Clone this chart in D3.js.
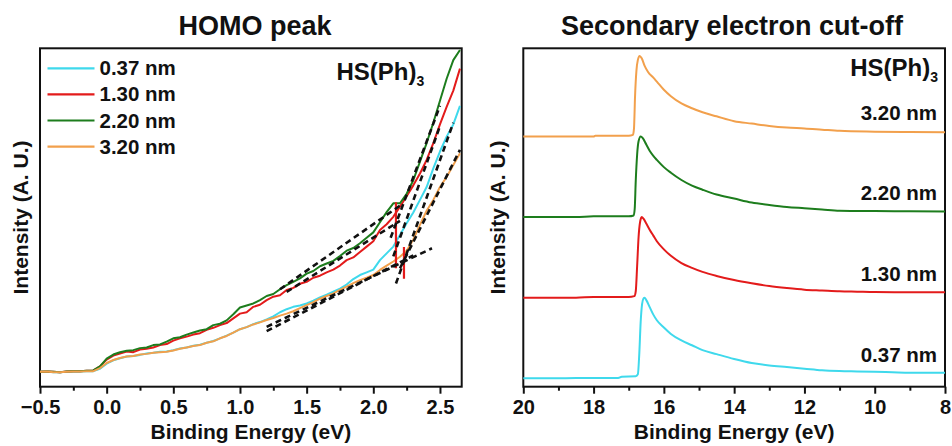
<!DOCTYPE html>
<html>
<head>
<meta charset="utf-8">
<script src="https://cdn.jsdelivr.net/npm/d3@7"></script>
<style>
  body { margin: 0; background: #fff; }
  text { font-family: "Liberation Sans", Arial, sans-serif; font-weight: bold; fill: #111; }
</style>
</head>
<body>
<div id="chart"></div>
<script>
const WIDTH = 952
const HEIGHT = 446

const sampleNames = ["0.37 nm", "1.30 nm", "2.20 nm", "3.20 nm"]
const sampleColors = ["#3fd9ec", "#e31b1b", "#1d7d1d", "#f2a04c"]

// HOMO region, binding energy grid (eV)
const homoEnergy = [-0.5, -0.45, -0.4, -0.35, -0.3, -0.25, -0.2, -0.15, -0.1, -0.05,
    0.0, 0.05, 0.1, 0.15, 0.2, 0.25, 0.3, 0.35, 0.4, 0.45,
    0.5, 0.55, 0.6, 0.65, 0.7, 0.75, 0.8, 0.85, 0.9, 0.95,
    1.0, 1.05, 1.1, 1.15, 1.2, 1.25, 1.3, 1.35, 1.4, 1.45,
    1.5, 1.55, 1.6, 1.65, 1.7, 1.75, 1.8, 1.85, 1.9, 1.95,
    2.0, 2.05, 2.1, 2.15, 2.2, 2.25, 2.3, 2.35, 2.4, 2.45,
    2.5, 2.55, 2.6, 2.65]

const homo037 = [4.4, 4.5, 4.3, 4.3, 4.4, 4.5, 4.5, 4.6, 4.6, 5.3,
    6.8, 7.8, 8.4, 8.9, 9.1, 9.4, 9.8, 10.0, 10.3, 10.4,
    10.8, 11.3, 11.6, 12.1, 12.4, 13.0, 13.5, 14.3, 15.1, 16.0,
    17.0, 17.6, 18.5, 19.1, 19.9, 20.8, 22.0, 22.9, 23.6, 24.0,
    24.6, 25.4, 26.4, 27.2, 28.1, 29.0, 30.2, 31.8, 33.0, 33.8,
    34.6, 37.4, 39.4, 41.4, 44.8, 48.3, 51.5, 55.2, 59.0, 64.5,
    69.5, 73.9, 77.5, 83.0]

const homo130 = [4.4, 4.5, 4.4, 4.3, 4.5, 4.6, 4.6, 4.7, 4.8, 6.0,
    8.0, 9.2, 9.8, 10.4, 10.2, 11.0, 11.2, 11.6, 12.3, 12.6,
    13.6, 14.3, 14.8, 15.4, 15.8, 16.8, 17.4, 18.2, 18.8, 20.2,
    21.6, 22.0, 23.6, 24.2, 25.6, 26.6, 27.0, 28.6, 29.2, 30.4,
    31.0, 32.2, 32.8, 33.8, 34.6, 35.8, 37.4, 38.2, 39.8, 41.4,
    43.0, 46.3, 48.0, 50.2, 53.2, 56.3, 59.5, 63.0, 67.0, 72.0,
    77.5, 82.7, 87.5, 94.0]

const homo220 = [4.4, 4.5, 4.4, 4.3, 4.5, 4.6, 4.6, 4.7, 4.8, 6.0,
    8.3, 9.5, 10.2, 10.6, 10.8, 11.4, 11.6, 12.3, 12.5, 13.3,
    14.3, 14.6, 15.4, 16.0, 16.6, 17.0, 18.2, 18.6, 19.6, 21.4,
    23.4, 24.0, 24.6, 25.6, 26.8, 27.4, 28.8, 30.0, 31.0, 32.0,
    33.4, 34.2, 35.6, 36.4, 37.2, 38.6, 40.2, 41.0, 42.4, 44.0,
    45.6, 48.6, 51.6, 54.2, 54.2, 57.0, 61.0, 66.5, 72.0, 78.0,
    84.5, 91.0, 96.5, 99.5]

const homo320 = [4.4, 4.5, 4.3, 4.3, 4.4, 4.5, 4.5, 4.6, 4.6, 5.5,
    7.0, 7.9, 8.5, 8.9, 9.1, 9.5, 9.7, 10.0, 10.2, 10.3,
    10.7, 11.2, 11.6, 12.0, 12.3, 13.0, 13.4, 14.3, 15.0, 16.0,
    17.0, 17.6, 18.4, 19.0, 19.7, 20.3, 21.0, 21.6, 22.3, 23.2,
    24.1, 25.0, 26.0, 26.8, 27.6, 28.6, 29.6, 30.6, 31.5, 32.2,
    33.0, 34.5, 35.8, 37.0, 38.4, 40.2, 43.5, 47.8, 52.0, 55.2,
    59.0, 62.0, 65.5, 69.0]

// onset tangent lines [e1, i1, e2, i2]
const tangentLines = [
    [1.3, 28.8, 2.2, 53.5],
    [1.35, 28.0, 2.2, 49.0],
    [1.2, 17.7, 2.44, 40.9],
    [1.2, 16.4, 2.3, 38.8],
    [2.13, 44.0, 2.5, 83.0],
    [2.15, 38.5, 2.5, 77.0],
    [2.17, 30.5, 2.6, 78.0],
    [2.2, 35.0, 2.65, 70.0]
]
// red onset markers [energy, iTop, iBottom]
const onsetMarks = [[2.17, 54.5, 35.0], [2.23, 41.3, 31.9]]

// secondary electron cut-off, [energy, normalised intensity]
const secc037 = [[20, 0], [19, 0], [18, 0.005], [17.3, 0.005], [17.2, 0.02], [16.8, 0.025], [16.74, 0.05],
    [16.7, 0.3], [16.66, 0.7], [16.62, 0.92], [16.58, 0.99], [16.55, 1.0], [16.5, 0.97], [16.4, 0.88],
    [16.3, 0.79], [16.2, 0.72], [16.0, 0.63], [15.8, 0.55], [15.5, 0.47], [15.2, 0.41], [14.9, 0.35],
    [14.5, 0.30], [14.0, 0.24], [13.5, 0.19], [13.0, 0.16], [12.5, 0.14], [12.0, 0.12], [11.5, 0.10],
    [11.0, 0.09], [10.5, 0.085], [10.0, 0.08], [9.5, 0.075], [9.0, 0.07], [8.5, 0.07], [8.0, 0.07]]
const secc130 = [[20, 0], [18.5, 0], [18, 0.01], [17, 0.01], [16.84, 0.02], [16.8, 0.08], [16.76, 0.4],
    [16.72, 0.75], [16.68, 0.93], [16.63, 1.0], [16.58, 0.98], [16.5, 0.92], [16.4, 0.84], [16.3, 0.77],
    [16.2, 0.70], [16.0, 0.6], [15.8, 0.52], [15.5, 0.43], [15.2, 0.37], [14.9, 0.32], [14.5, 0.27],
    [14.0, 0.22], [13.5, 0.18], [13.0, 0.145], [12.5, 0.12], [12.0, 0.10], [11.5, 0.09], [11.0, 0.08],
    [10.5, 0.075], [10.0, 0.07], [9.0, 0.068], [8.0, 0.067]]
const secc220 = [[20, 0], [18.5, 0], [18, 0.01], [17, 0.01], [16.86, 0.02], [16.83, 0.1], [16.8, 0.45],
    [16.76, 0.78], [16.72, 0.94], [16.66, 1.0], [16.6, 0.98], [16.5, 0.9], [16.4, 0.82], [16.3, 0.76],
    [16.2, 0.71], [16.0, 0.62], [15.8, 0.55], [15.5, 0.46], [15.2, 0.39], [14.9, 0.34], [14.5, 0.28],
    [14.0, 0.23], [13.5, 0.18], [13.0, 0.15], [12.5, 0.125], [12.0, 0.11], [11.5, 0.095], [11.0, 0.08],
    [10.0, 0.075], [9.0, 0.072], [8.0, 0.07]]
const secc320 = [[20, 0], [18, 0], [17.95, 0.01], [17, 0.01], [16.88, 0.02], [16.85, 0.1], [16.82, 0.5],
    [16.78, 0.82], [16.74, 0.95], [16.69, 1.0], [16.63, 0.97], [16.55, 0.88], [16.45, 0.8], [16.3, 0.73],
    [16.2, 0.68], [16.0, 0.58], [15.8, 0.5], [15.5, 0.41], [15.2, 0.35], [14.9, 0.3], [14.5, 0.25],
    [14.0, 0.19], [13.5, 0.16], [13.0, 0.13], [12.5, 0.11], [12.0, 0.10], [11.5, 0.085], [11.0, 0.07],
    [10.0, 0.06], [9.0, 0.055], [8.0, 0.054]]
const seccOffsets = [0, 1, 2, 3]

const homoTicks = [-0.5, 0.0, 0.5, 1.0, 1.5, 2.0, 2.5]
const seccTicks = [20, 18, 16, 14, 12, 10, 8]


const svg = d3.select("#chart").append("svg")
    .attr("width", WIDTH)
    .attr("height", HEIGHT)

// ---------- left panel ----------
const xL = d3.scaleLinear().domain([-0.5, 2.663]).range([40, 461.7])
const yL = d3.scaleLinear().domain([0, 100]).range([386.7, 48.3])

// ---------- right panel ----------
const xR = d3.scaleLinear().domain([20, 8]).range([523.3, 945])
const yR = d3.scaleLinear().domain([-0.104, 4.094]).range([386.7, 48.3])


function drawFrame(x, y, ticks, minorStep, fmt, title, titleX, labelX) {
    const [x0, x1] = x.range()
    const [yb, yt] = y.range()
    const dom = x.domain()
    const lo = Math.min(...dom), hi = Math.max(...dom)
    const minor = d3.range(Math.ceil(lo / minorStep) * minorStep, hi + 1e-9, minorStep)
        .filter(v => !ticks.some(t => Math.abs(t - v) < 1e-6))

    svg.append("g")
        .attr("transform", `translate(0,${yb})`)
        .call(d3.axisBottom(x).tickValues(minor).tickSize(4).tickFormat(""))
        .call(g => g.select(".domain").remove())
        .selectAll("line").attr("stroke", "#111").attr("stroke-width", 2)

    const ax = svg.append("g")
        .attr("transform", `translate(0,${yb})`)
        .call(d3.axisBottom(x).tickValues(ticks).tickSize(7).tickPadding(6).tickFormat(fmt))
    ax.select(".domain").remove()
    ax.selectAll("line").attr("stroke", "#111").attr("stroke-width", 2)
    ax.selectAll("text").attr("font-size", 20).attr("font-family", null).attr("fill", "#111")

    svg.append("rect")
        .attr("x", x0).attr("y", yt)
        .attr("width", x1 - x0).attr("height", yb - yt)
        .attr("fill", "none").attr("stroke", "#111").attr("stroke-width", 2)

    svg.append("text")
        .attr("x", (x0 + x1) / 2).attr("y", 439)
        .attr("text-anchor", "middle").attr("font-size", 21)
        .text("Binding Energy (eV)")

    svg.append("text")
        .attr("transform", `translate(${labelX},${(yb + yt) / 2}) rotate(-90)`)
        .attr("text-anchor", "middle").attr("font-size", 21)
        .text("Intensity (A. U.)")

    svg.append("text")
        .attr("x", titleX).attr("y", 35)
        .attr("text-anchor", "middle").attr("font-size", 27)
        .text(title)
}

function moleculeLabel(x, y, anchor) {
    const t = svg.append("text")
        .attr("x", x).attr("y", y)
        .attr("text-anchor", anchor).attr("font-size", 24)
    t.append("tspan").text("HS(Ph)")
    t.append("tspan").attr("font-size", 14).attr("dy", 6).text("3")
}

drawFrame(xL, yL, homoTicks, 0.25, d3.format(".1f"), "HOMO peak", 255, 28)
drawFrame(xR, yR, seccTicks, 1, d3.format("d"), "Secondary electron cut-off", 732, 505)

// HOMO curves
const homoSeries = [homo037, homo130, homo220, homo320]
const lineL = d3.line()
    .x((d, i) => xL(homoEnergy[i]))
    .y(d => yL(d))

svg.append("clipPath").attr("id", "clipL")
    .append("rect").attr("x", 40).attr("y", 48.3).attr("width", 421.7).attr("height", 338.4)

const plotL = svg.append("g").attr("clip-path", "url(#clipL)")

plotL.selectAll(".homo")
    .data(homoSeries)
    .join("path")
    .attr("class", "homo")
    .attr("d", lineL)
    .attr("fill", "none")
    .attr("stroke", (d, i) => sampleColors[i])
    .attr("stroke-width", 2)
    .attr("stroke-linejoin", "round")

plotL.selectAll(".onset")
    .data(onsetMarks)
    .join("line")
    .attr("class", "onset")
    .attr("x1", d => xL(d[0])).attr("x2", d => xL(d[0]))
    .attr("y1", d => yL(d[1])).attr("y2", d => yL(d[2]))
    .attr("stroke", sampleColors[1])
    .attr("stroke-width", 2.2)

plotL.selectAll(".tangent")
    .data(tangentLines)
    .join("line")
    .attr("class", "tangent")
    .attr("x1", d => xL(d[0])).attr("y1", d => yL(d[1]))
    .attr("x2", d => xL(d[2])).attr("y2", d => yL(d[3]))
    .attr("stroke", "#111")
    .attr("stroke-width", 2.6)
    .attr("stroke-dasharray", "6,4")

// legend
const legend = svg.append("g")
    .selectAll("g")
    .data(sampleNames)
    .join("g")
    .attr("transform", (d, i) => `translate(47.5,${68.3 + i * 26.1})`)

legend.append("line")
    .attr("x1", 0).attr("x2", 47)
    .attr("stroke", (d, i) => sampleColors[i])
    .attr("stroke-width", 2.2)

legend.append("text")
    .attr("x", 52).attr("y", 7)
    .attr("font-size", 20.5)
    .text(d => d)

moleculeLabel(336.5, 80, "start")

// secondary electron cut-off curves
const seccSeries = [secc037, secc130, secc220, secc320]
svg.append("g")
    .selectAll("path")
    .data(seccSeries)
    .join("path")
    .attr("d", (d, i) => d3.line()
        .curve(d3.curveMonotoneX)
        .x(p => xR(p[0]))
        .y(p => yR(p[1] + seccOffsets[i]))(d))
    .attr("fill", "none")
    .attr("stroke", (d, i) => sampleColors[i])
    .attr("stroke-width", 2)
    .attr("stroke-linejoin", "round")

svg.append("g")
    .selectAll("text")
    .data(sampleNames)
    .join("text")
    .attr("x", 937)
    .attr("y", (d, i) => yR(seccOffsets[i] + 0.07) - 11)
    .attr("text-anchor", "end")
    .attr("font-size", 20.5)
    .text(d => d)

moleculeLabel(938, 76, "end")
</script>
</body>
</html>
